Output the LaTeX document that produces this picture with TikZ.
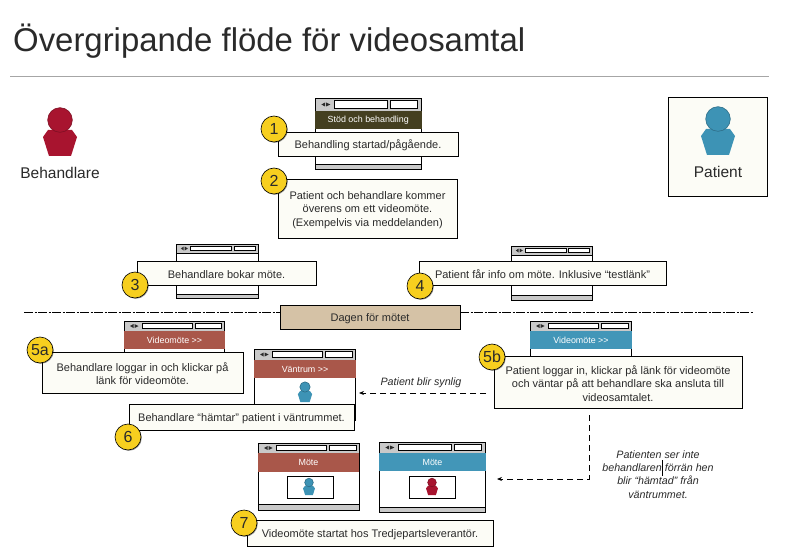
\documentclass[tikz,border=0pt]{standalone}
\usepackage{fontspec}
\setmainfont{Liberation Sans}
\usetikzlibrary{shadows,arrows.meta}
\definecolor{ink}{HTML}{2A2A2A}
\definecolor{paper}{HTML}{FCFCF6}
\definecolor{pred}{HTML}{A8142F}
\definecolor{pblue}{HTML}{3D93B5}
\definecolor{hred}{HTML}{A9574A}
\definecolor{hblue}{HTML}{4296B8}
\definecolor{holive}{HTML}{443F20}
\definecolor{beige}{HTML}{D5C2A6}
\definecolor{badgey}{HTML}{F7CF1F}
\definecolor{tool}{HTML}{C9C9C9}
\tikzset{
  callout/.style={draw=black,line width=.9pt,fill=paper,
    drop shadow={shadow xshift=1pt,shadow yshift=-1pt,opacity=.45,fill=black}},
  callouttext/.style={align=center,text=ink,inner sep=0pt,font=\fontsize{11}{13.4}\selectfont},
  winbox/.style={draw=black,line width=.9pt,fill=white},
  header/.style={text=white,font=\fontsize{8.9}{11}\selectfont},
  badge/.style={circle,draw=black,line width=.6pt,fill=badgey,minimum size=26pt,inner sep=0pt,
    text=ink,font=\fontsize{16}{18}\selectfont,
    drop shadow={shadow xshift=.8pt,shadow yshift=-.8pt,opacity=.4,fill=black}},
  plabel/.style={text=ink,font=\fontsize{15.5}{18}\selectfont},
  note/.style={text=ink,align=center,font=\itshape\fontsize{10.7}{13.2}\selectfont},
  flow/.style={draw=black,line width=.8pt,dash pattern=on 6pt off 4pt,-{Stealth[length=5pt,width=4pt]}},
  divider/.style={draw=black,line width=.7pt,dash pattern=on 9pt off 1.5pt on 2pt off 1.5pt},
}
% name, x1, y1, x2, y2, style, text
\newcommand{\RectNode}[7]{%
  \pgfmathsetmacro\rw{#4-#2}\pgfmathsetmacro\rh{#5-#3}%
  \node[#6,minimum width=\rw pt,minimum height=\rh pt,inner sep=0pt,outer sep=0pt,anchor=north west] (#1) at (#2,#3) {#7};}
% name, x1, y1, x2, y2, extra style, text: box with its text set a little below centre
\newcommand{\CallNode}[7]{%
  \RectNode{#1}{#2}{#3}{#4}{#5}{callout,#6}{}%
  \node[callouttext] (#1-text) at ([yshift=-1.4pt]#1.center) {#7};}
% name, x1, y1, x2, y2, toolbar bottom, grey top
\newcommand{\WinNode}[7]{%
  \RectNode{#1}{#2}{#3}{#4}{#5}{winbox}{}%
  \pgfmathsetmacro\rw{#4-#2}%
  \pgfmathsetmacro\ba{#2+.18*\rw}\pgfmathsetmacro\bb{#2+.68*\rw}%
  \pgfmathsetmacro\bc{#2+.71*\rw}\pgfmathsetmacro\bd{#2+.97*\rw}%
  \pgfmathsetmacro\bt{#3+2.7}\pgfmathsetmacro\bu{#6-2.7}\pgfmathsetmacro\bm{(#3+#6)/2}%
  \pgfmathsetmacro\ta{#2+.06*\rw}\pgfmathsetmacro\tb{#2+.10*\rw}\pgfmathsetmacro\tc{#2+.145*\rw}%
  \draw[line width=.9pt,fill=tool] (#2,#3) rectangle (#4,#6);
  \draw[line width=.8pt,fill=white] (\ba,\bt) rectangle (\bb,\bu);
  \draw[line width=.8pt,fill=white] (\bc,\bt) rectangle (\bd,\bu);
  \fill[ink] (\ta,\bm) -- (\tb-.5,\bm-2) -- (\tb-.5,\bm+2) -- cycle;
  \fill[ink] (\tc,\bm) -- (\tb+.5,\bm-2) -- (\tb+.5,\bm+2) -- cycle;
  \ifdim#7pt<#5pt \draw[line width=.9pt,fill=tool] (#2,#7) rectangle (#4,#5);\fi}
% x, y of head centre, scale, colour
\newcommand{\Person}[4]{%
  \begin{scope}[shift={(#1,#2)},scale=#3]
    \fill[#4] (-12,10) -- (-17,17) -- (-11,36) -- (11,36) -- (17,17) -- (12,10) -- cycle;
    \draw[#4!75!black,fill=#4,line width=.6pt] (0,0) circle[radius=12.3pt];
  \end{scope}}
\begin{document}
\begin{tikzpicture}[x=1pt,y=-1pt]
\useasboundingbox (0,0) rectangle (786,553);
\fill[white] (0,0) rectangle (786,553);

% title
\node[anchor=west,text=ink,inner sep=0pt,font=\fontsize{32.9}{38}\selectfont] (title) at (13,41) {Övergripande flöde för videosamtal};
\coordinate (ruleL) at (10,77); \coordinate (ruleR) at (769,77);
\draw[black!35,line width=1pt] (ruleL) -- (ruleR);

% roles
\Person{60}{120}{1}{pred}
\node[plabel] (behandlare) at (60,173) {Behandlare};
\CallNode{patientbox}{668}{97}{767}{196}{}{}
\Person{718}{119}{1}{pblue}
\node[plabel] (patient) at (718,172) {Patient};

% divider
\CallNode{dagen}{280}{305}{460}{329}{fill=beige}{Dagen för mötet}
\coordinate (divL) at (24,312.5); \coordinate (divR) at (754,312.5);
\draw[divider] (divL) -- (dagen.west |- divL);
\draw[divider] (dagen.east |- divR) -- (divR);

% windows
\WinNode{w1}{315}{98}{421}{169}{111}{164}
\RectNode{h1}{315}{111}{421.5}{129}{fill=holive,header}{Stöd och behandling}
\WinNode{w3}{176}{244}{258}{298}{253}{294}
\WinNode{w4}{511}{246}{592}{300}{255}{295}
\WinNode{w5a}{124}{321}{224}{380}{331}{380}
\RectNode{h5a}{124}{331}{225}{349}{fill=hred,header}{Videomöte >{}>}
\WinNode{w6}{254}{349}{355}{420}{360}{420}
\RectNode{h6}{254}{360}{356}{378}{fill=hred,header}{Väntrum >{}>}
\Person{305}{387}{.42}{pblue}
\WinNode{w5b}{530}{321}{631}{400}{331}{400}
\RectNode{h5b}{530}{331}{632}{349}{fill=hblue,header}{Videomöte >{}>}
\WinNode{w7a}{258}{443}{359}{510}{453}{504.5}
\RectNode{h7a}{258}{453}{359}{472}{fill=hred,header}{Möte}
\RectNode{v7a}{287}{476}{333}{498}{winbox}{}
\Person{309}{482.5}{.35}{pblue}
\WinNode{w7b}{379}{442}{485}{512}{453}{507}
\RectNode{h7b}{379}{453}{486}{471}{fill=hblue,header}{Möte}
\RectNode{v7b}{409}{476}{455}{498}{winbox}{}
\Person{432}{482.5}{.35}{pred}

% callouts
\CallNode{b1}{278}{132}{458}{156.5}{}{Behandling startad/pågående.}
\CallNode{b2}{278}{179}{457}{238}{}{Patient och behandlare kommer\\överens om ett videomöte.\\(Exempelvis via meddelanden)}
\CallNode{b3}{137}{261}{316}{285}{}{Behandlare bokar möte.}
\CallNode{b4}{419}{261}{666}{285}{}{Patient får info om möte. Inklusive “testlänk”}
\CallNode{b5a}{42}{352}{243}{393}{}{Behandlare loggar in och klickar på\\länk för videomöte.}
\CallNode{b6}{129}{404}{354}{430}{}{Behandlare “hämtar” patient i väntrummet.}
\CallNode{b5b}{494}{356}{742}{408}{}{Patient loggar in, klickar på länk för videomöte\\och väntar på att behandlare ska ansluta till\\videosamtalet.}
\CallNode{b7}{247}{520}{493}{546}{}{Videomöte startat hos Tredjepartsleverantör.}

% badges
\node[badge] (n1) at (274,129) {1};
\node[badge] (n2) at (274,181) {2};
\node[badge] (n3) at (135,285) {3};
\node[badge] (n4) at (420,286) {4};
\node[badge] (n5a) at (40,350) {5a};
\node[badge] (n5b) at (492,357) {5b};
\node[badge] (n6) at (128,437) {6};
\node[badge] (n7) at (244,523) {7};

% connectors
\coordinate (lineA) at (0,393);
\coordinate (lineB) at (589,479);
\draw[flow,shorten <=8pt,shorten >=4pt] (b5b.west |- lineA) -- (w6.east |- lineA);
\draw[flow,shorten <=7pt,shorten >=12pt] (b5b.south -| lineB) |- (w7b.east |- lineB);
\node[note] (n-synlig) at (421,382.5) {Patient blir synlig};
\node[note] (n-hamtad) at (658,474.5) {Patienten ser inte\\behandlaren förrän hen\\blir “hämtad” från\\väntrummet.};
\coordinate (cursorT) at (662,460); \coordinate (cursorB) at (662,476);
\draw[black,line width=.7pt] (cursorT) -- (cursorB);
\end{tikzpicture}
\end{document}
